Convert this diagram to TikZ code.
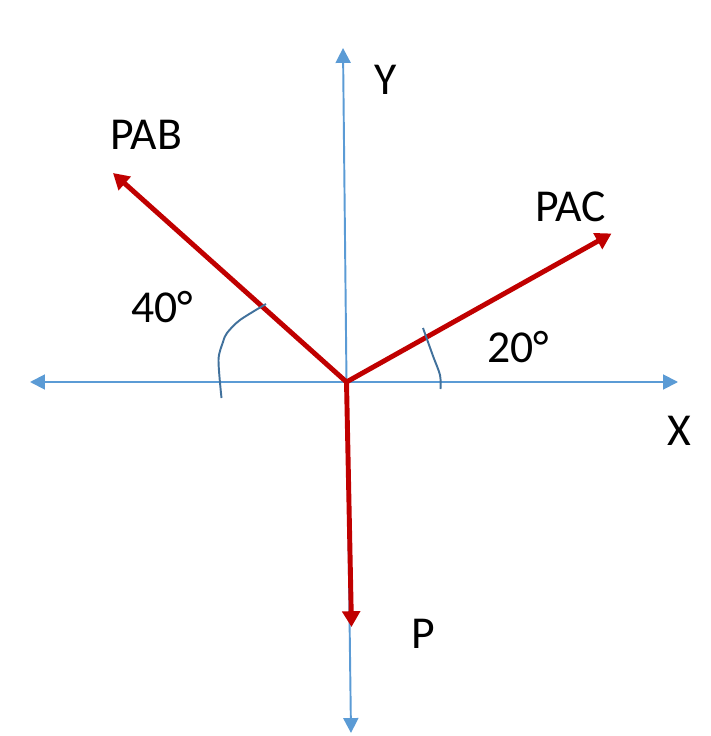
\documentclass[tikz,border=0pt]{standalone}
\usepackage{fontspec}
\setmainfont{Carlito}
\usetikzlibrary{arrows.meta}
\definecolor{caxis}{HTML}{5B9BD5}
\definecolor{cforce}{HTML}{C00000}
\definecolor{cmark}{HTML}{41719C}

\begin{document}
\begin{tikzpicture}[
    x=0.02cm,y=-0.02cm,
    font=\fontsize{26}{30}\selectfont,
    axis/.style={-{Triangle[length=8.5pt,width=8.5pt]},draw=caxis,line width=1.1pt},
    force/.style={-{Triangle[length=9pt,width=10pt]},draw=cforce,line width=2.8pt},
    anglemark/.style={draw=cmark,line width=1.1pt},
    lbl/.style={anchor=base west,inner sep=0pt}]
    \useasboundingbox (0,0) rectangle (710,736);
    \coordinate (O)    at (346.5,382);
    \coordinate (xl)   at (30,382);
    \coordinate (xr)   at (678,382);
    \coordinate (yt)   at (343,48);
    \coordinate (yb)   at (351,733);
    \coordinate (pab)  at (113,173);
    \coordinate (pac)  at (611.5,233.5);
    \coordinate (p)    at (351.5,627);
    % axes
    \draw[axis] (O) -- (xr);
    \draw[axis] (O) -- (xl);
    \draw[axis] (O) -- (yt);
    \draw[axis] (O) -- (yb);
    % forces
    \draw[force] (O) -- (pab);
    \draw[force] (O) -- (pac);
    \draw[force] (O) -- (p);
    % angle marks
    \draw[anglemark] plot[smooth,tension=0.5] coordinates
      {(266,304) (240,320) (227,333) (223,342) (218.5,360) (221.5,398)};
    \draw[anglemark] plot[smooth,tension=0.5] coordinates
      {(423,328) (433,356) (440,375) (440.5,389)};
    % labels
    \node[lbl] (lpab) at (110,150) {PAB};
    \node[lbl] (lpac) at (535,222) {PAC};
    \node[lbl] (l40)  at (131,322) {40°};
    \node[lbl] (l20)  at (487,362) {20°};
    \node[lbl] (lx)   at (667,445) {X};
    \node[lbl] (ly)   at (374,95)  {Y};
    \node[lbl] (lp)   at (411,648) {P};
\end{tikzpicture}
\end{document}
